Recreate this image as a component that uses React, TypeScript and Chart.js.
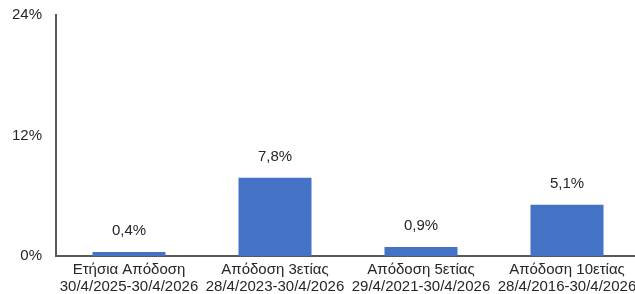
import React, { useEffect, useRef } from "react";
import { Chart, registerables } from "chart.js";

Chart.register(...registerables);

const categories: string[][] = [
  ["Ετήσια Απόδοση", "30/4/2025-30/4/2026"],
  ["Απόδοση 3ετίας", "28/4/2023-30/4/2026"],
  ["Απόδοση 5ετίας", "29/4/2021-30/4/2026"],
  ["Απόδοση 10ετίας", "28/4/2016-30/4/2026"],
];
const values: number[] = [0.4, 7.8, 0.9, 5.1];
const valueLabels: string[] = ["0,4%", "7,8%", "0,9%", "5,1%"];
const yTicks: number[] = [0, 12, 24];

const FONT = "'Liberation Sans', Arial, sans-serif";
const TEXT = "#262626";

const labelPlugin = {
  id: "valueLabels",
  afterDatasetsDraw(chart: any) {
    const ctx = chart.ctx;
    const meta = chart.getDatasetMeta(0);
    ctx.save();
    ctx.font = `15px ${FONT}`;
    ctx.fillStyle = TEXT;
    ctx.textAlign = "center";
    ctx.textBaseline = "middle";
    meta.data.forEach((bar: any, i: number) => {
      ctx.fillText(valueLabels[i], bar.x, bar.y - 21);
    });
    ctx.restore();
  },
};

export default function App() {
  const ref = useRef<HTMLCanvasElement>(null);
  useEffect(() => {
    if (!ref.current) return;
    const chart = new Chart(ref.current, {
      type: "bar",
      data: {
        labels: categories,
        datasets: [
          {
            data: values,
            backgroundColor: "#4472C4",
            categoryPercentage: 1,
            barPercentage: 0.5,
          },
        ],
      },
      options: {
        responsive: false,
        animation: false,
        layout: { padding: { top: 15, left: 0, right: 0, bottom: 0 } },
        plugins: { legend: { display: false }, tooltip: { enabled: false } },
        scales: {
          x: {
            grid: { display: false, drawTicks: false },
            border: { display: true, color: "#595959", width: 2 },
            ticks: {
              color: TEXT,
              font: { family: FONT, size: 15, lineHeight: 1.13 },
              padding: 5,
              maxRotation: 0,
              autoSkip: false,
            },
            afterFit: (s: any) => {
              s.height = 38;
              s.paddingLeft = 0;
              s.paddingRight = 0;
            },
          },
          y: {
            min: 0,
            max: 24,
            afterBuildTicks: (s: any) => {
              s.ticks = yTicks.map((v) => ({ value: v }));
            },
            grid: { display: false, drawTicks: false },
            border: { display: true, color: "#595959", width: 2 },
            ticks: {
              color: TEXT,
              font: { family: FONT, size: 15 },
              padding: 14,
              callback: (v: any) => `${v}%`,
            },
            afterFit: (s: any) => {
              s.width = 56;
              s.paddingTop = 0;
              s.paddingBottom = 0;
            },
          },
        },
      },
      plugins: [labelPlugin],
    });
    return () => chart.destroy();
  }, []);
  return (
    <div
      style={{
        position: "fixed",
        left: 0,
        top: 0,
        width: 635,
        height: 294,
        overflow: "hidden",
        background: "#fff",
      }}
    >
      <canvas ref={ref} width={640} height={294} style={{ display: "block" }} />
    </div>
  );
}
